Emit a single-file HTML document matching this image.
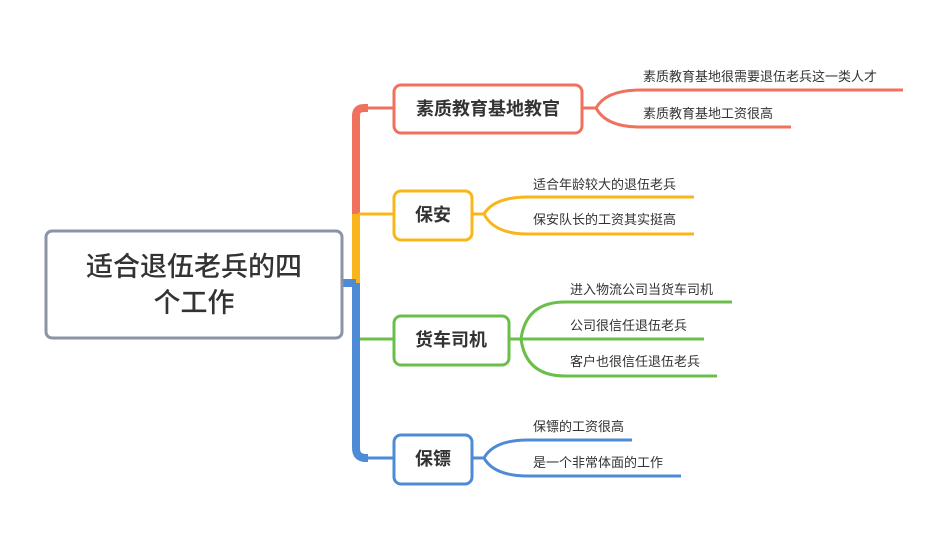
<!DOCTYPE html>
<html><head><meta charset="utf-8"><style>
html,body{margin:0;padding:0;background:#fff;}
svg{display:block}
text{font-family:"Liberation Sans","Noto Sans CJK SC",sans-serif;fill:#333;}
.leaf{font-size:13px;}
.node{font-size:18px;font-weight:bold;text-anchor:middle;}
</style></head><body>
<svg width="940" height="555" viewBox="0 0 940 555" xmlns="http://www.w3.org/2000/svg">
<g fill="none">
<!-- trunk -->
<path d="M393 108 H364" stroke="#f0715e" stroke-width="3"/>
<path d="M368 108 H364 Q356 108 356 116 V214" stroke="#f0715e" stroke-width="8"/>
<path d="M356 214 V283" stroke="#f8b51c" stroke-width="8"/>
<path d="M393 214 H358" stroke="#f8b51c" stroke-width="3"/>
<path d="M356 283 V448 Q356 458 366 458 H368" stroke="#4f8ad6" stroke-width="8"/>
<path d="M343 283 H356" stroke="#4f8ad6" stroke-width="8"/>
<path d="M366 458 H393" stroke="#4f8ad6" stroke-width="3"/>
<path d="M360 339 H393" stroke="#6abf4b" stroke-width="3"/>
<!-- leaves red -->
<path d="M582 108 H596 Q606 90 640 90 H903 M596 108 Q606 127 640 127 H791" stroke="#f0715e" stroke-width="3"/>
<!-- yellow -->
<path d="M472 214 H484 Q494 197 528 197 H694 M484 214 Q494 234 528 234 H694" stroke="#f8b51c" stroke-width="3"/>
<!-- green -->
<path d="M509 339 H521 Q526 302 565 302 H732 M509 339 H704 M521 339 Q526 376 565 376 H717" stroke="#6abf4b" stroke-width="3"/>
<!-- blue -->
<path d="M472 458 H484 Q494 440 528 440 H632 M484 458 Q494 476 528 476 H681" stroke="#4f8ad6" stroke-width="3"/>
</g>
<!-- central -->
<rect x="46" y="231" width="296" height="107" rx="6" fill="#fff" stroke="#8a94a4" stroke-width="3"/>
<text x="194" y="276" font-size="27" font-weight="500" text-anchor="middle">适合退伍老兵的四</text>
<text x="194" y="312" font-size="27" font-weight="500" text-anchor="middle">个工作</text>
<!-- nodes -->
<rect x="394" y="85" width="188" height="48" rx="7" fill="#fff" stroke="#f0715e" stroke-width="3"/>
<text class="node" x="488" y="115">素质教育基地教官</text>
<rect x="394" y="191" width="78" height="49" rx="7" fill="#fff" stroke="#f8b51c" stroke-width="3"/>
<text class="node" x="433" y="221">保安</text>
<rect x="394" y="316" width="115" height="49" rx="7" fill="#fff" stroke="#6abf4b" stroke-width="3"/>
<text class="node" x="451" y="346">货车司机</text>
<rect x="394" y="435" width="78" height="49" rx="7" fill="#fff" stroke="#4f8ad6" stroke-width="3"/>
<text class="node" x="433" y="465">保镖</text>
<!-- leaf texts -->
<text class="leaf" x="643" y="81">素质教育基地很需要退伍老兵这一类人才</text>
<text class="leaf" x="643" y="118">素质教育基地工资很高</text>
<text class="leaf" x="533" y="189">适合年龄较大的退伍老兵</text>
<text class="leaf" x="533" y="224">保安队长的工资其实挺高</text>
<text class="leaf" x="570" y="294">进入物流公司当货车司机</text>
<text class="leaf" x="570" y="330">公司很信任退伍老兵</text>
<text class="leaf" x="570" y="366">客户也很信任退伍老兵</text>
<text class="leaf" x="533" y="431">保镖的工资很高</text>
<text class="leaf" x="533" y="467">是一个非常体面的工作</text>
</svg>
</body></html>
